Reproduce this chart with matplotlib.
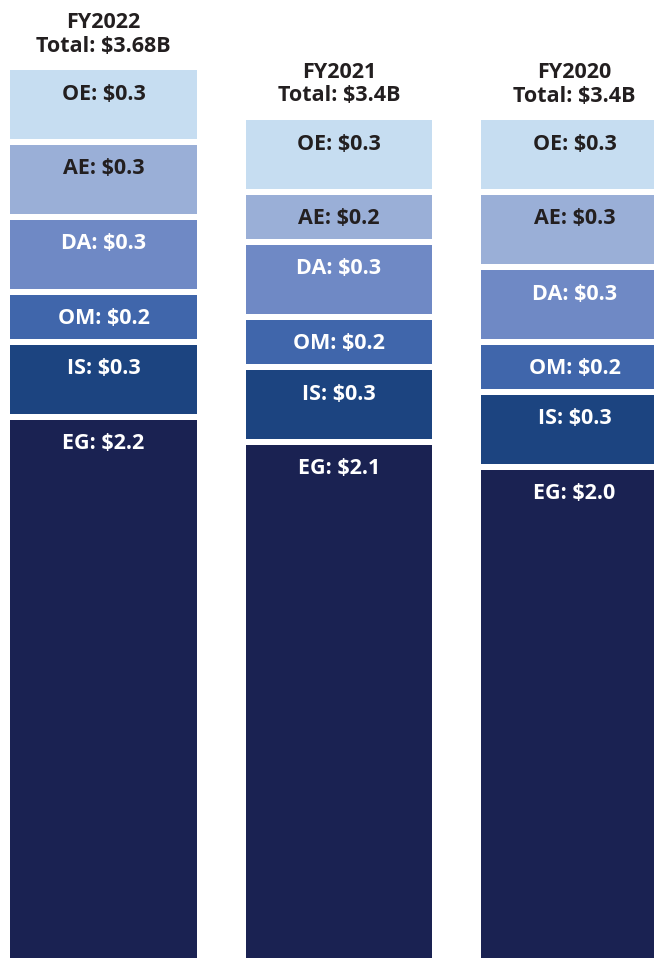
import matplotlib
matplotlib.use("Agg")
import matplotlib.pyplot as plt

# data (in $B)
years = ["FY2022", "FY2021", "FY2020"]
totals = ["$3.68B", "$3.4B", "$3.4B"]
categories = ["EG", "IS", "OM", "DA", "AE", "OE"]  # bottom to top
values = {
    "FY2022": [2.2, 0.3, 0.2, 0.3, 0.3, 0.3],
    "FY2021": [2.1, 0.3, 0.2, 0.3, 0.2, 0.3],
    "FY2020": [2.0, 0.3, 0.2, 0.3, 0.3, 0.3],
}
colors = ["#1a2252", "#1c4480", "#4066ab", "#6f89c5", "#9aafd7", "#c6ddf1"]
text_colors = ["white", "white", "white", "white", "#231f20", "#231f20"]

plt.rcParams["font.family"] = ["Open Sans", "DejaVu Sans"]

fig = plt.figure(figsize=(6.54, 9.58), dpi=100)
ax = fig.add_axes([0, 0, 1, 1])
ax.axis("off")

px = 250.0  # pixels per $1B
gap = 6 / px
bar_w = 0.794
fs = 15.5

for i, yr in enumerate(years):
    cum = 0.0
    for j, v in enumerate(values[yr]):
        b = cum + (gap if j > 0 else 0)
        ax.bar(i, cum + v - b, bottom=b, width=bar_w, color=colors[j],
               edgecolor="none")
        ax.text(i, cum + v - 24 / px, f"{categories[j]}: ${v:.1f}",
                ha="center", va="center", fontsize=fs, fontweight="bold",
                color=text_colors[j])
        cum += v
    ax.text(i, cum + 24 / px, f"Total: {totals[i]}", ha="center", va="center",
            fontsize=fs, fontweight="bold", color="#231f20")
    ax.text(i, cum + 47 / px, yr, ha="center", va="center",
            fontsize=fs, fontweight="bold", color="#231f20")

ax.set_xlim(-103.5 / 235.5, (654 - 103.5) / 235.5)
top = 3.6 + 70 / px
ax.set_ylim(top - 958 / px, top)

fig.savefig("out.png", dpi=100)
